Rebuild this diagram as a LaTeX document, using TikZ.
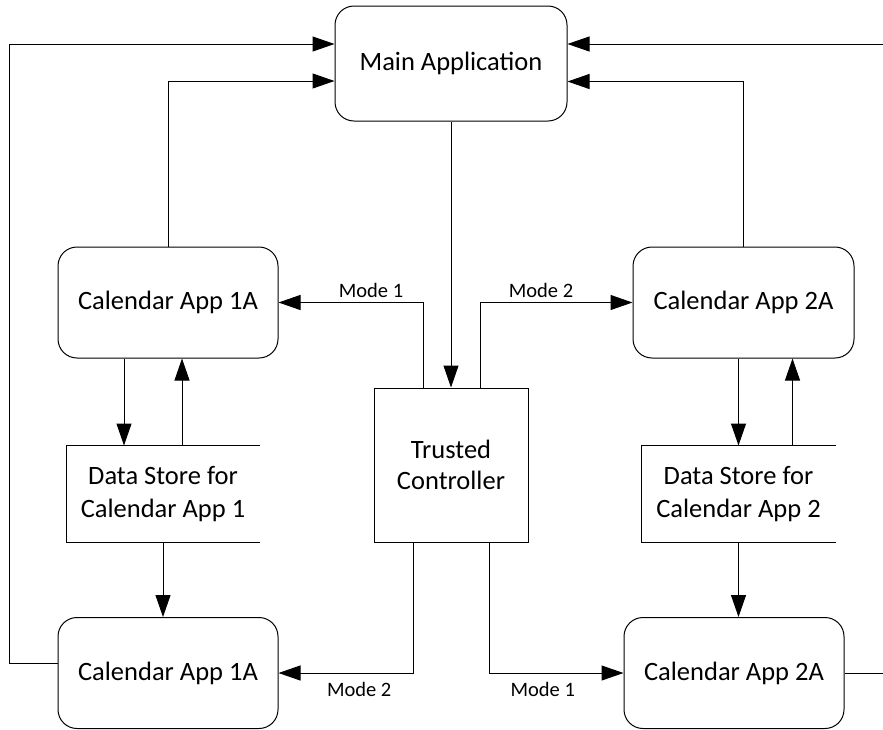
\documentclass[tikz,border=0pt]{standalone}
\usepackage{fontspec}
\setmainfont{Carlito}
\usetikzlibrary{arrows.meta}

\tikzset{
  app/.style={draw, rounded corners=19pt, minimum width=220pt, minimum height=111pt,
    align=center, font=\fontsize{26.5}{33}\selectfont},
  ctrl/.style={draw, minimum width=154pt, minimum height=154pt,
    align=center, font=\fontsize{26.5}{31}\selectfont},
  store/.style={minimum width=192pt, minimum height=96pt,
    align=center, font=\fontsize{26.5}{33}\selectfont},
  flow/.style={-{Triangle[length=22pt,width=15pt]}},
  modelbl/.style={font=\fontsize{20.5}{24}\selectfont, inner sep=4pt}
}

\begin{document}
\begin{tikzpicture}[x=1pt, y=-1pt, line width=1pt]
  \useasboundingbox (0,0) rectangle (883,729);

  \node[app, minimum width=232pt, minimum height=115pt] (main) at (451,63.5) {Main Application};
  \node[app] (c1a) at (168,302.5) {Calendar App 1A};
  \node[app, minimum width=221pt] (c2a) at (743.5,302.5) {Calendar App 2A};
  \node[ctrl] (tc) at (451,465) {Trusted\\Controller};
  \node[store] (ds1) at (163,494) {Data Store for\\Calendar App 1};
  \node[store, minimum width=193pt] (ds2) at (738.5,494) {Data Store for\\Calendar App 2};
  \node[app] (c1b) at (168,673) {Calendar App 1A};
  \node[app] (c2b) at (734,673) {Calendar App 2A};
  \coordinate (rlow) at (883,673);
  \coordinate (rhigh) at (883,44);

  \draw (ds1.north east) -- (ds1.north west) -- (ds1.south west) -- (ds1.south east);
  \draw (ds2.north east) -- (ds2.north west) -- (ds2.south west) -- (ds2.south east);

  \draw[flow] (main.south) -- (tc.north);
  \draw[flow] ([xshift=-28pt]tc.north) |- (c1a.east) node[modelbl, above, pos=0.68] {Mode 1};
  \draw[flow] ([xshift=29pt]tc.north) |- (c2a.west) node[modelbl, above, pos=0.7] {Mode 2};
  \draw[flow] ([xshift=-38pt]tc.south) |- (c1b.east) node[modelbl, below, yshift=-5pt, pos=0.7] {Mode 2};
  \draw[flow] ([xshift=38pt]tc.south) |- (c2b.west) node[modelbl, below, yshift=-5pt, pos=0.7] {Mode 1};

  \draw[flow] (c1a.north) |- ([yshift=-17.5pt]main.west);
  \draw[flow] (c2a.north) |- ([yshift=-18pt]main.east);
  \draw[flow] ([yshift=10pt]c1b.west) -- ++(-48,0) |- ([yshift=19.5pt]main.west);
  \draw (c2b.east) -- (c2b.east -| rlow);
  \draw[flow] (rhigh) -- ([yshift=19.5pt]main.east);

  \draw[flow] ([xshift=-44pt]c1a.south) -- ([xshift=-39pt]ds1.north);
  \draw[flow] ([xshift=19pt]ds1.north) -- ([xshift=14pt]c1a.south);
  \draw[flow] (ds1.south) -- (ds1.south |- c1b.north);
  \draw[flow] (c2a.south -| ds2.north) -- (ds2.north);
  \draw[flow] ([xshift=54pt]ds2.north) -- ([xshift=54pt]ds2.north |- c2a.south);
  \draw[flow] (ds2.south) -- (ds2.south |- c2b.north);
\end{tikzpicture}
\end{document}
